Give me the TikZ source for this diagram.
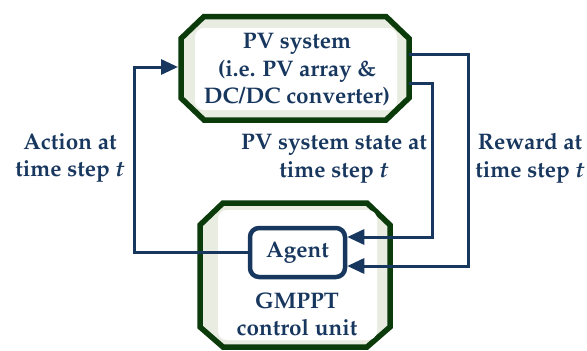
\documentclass[tikz,border=0pt]{standalone}
\usepackage[T1]{fontenc}
\usepackage{mathpazo}
\usetikzlibrary{arrows.meta}
\definecolor{txtc}{HTML}{18375F}
\definecolor{linec}{HTML}{17375E}
\definecolor{boxg}{HTML}{0B3B0B}
\definecolor{fillg}{HTML}{E9EDE1}
\begin{document}
\begin{tikzpicture}[x=1pt,y=-1pt,
  every node/.style={text=txtc, font=\fontsize{22.5}{27.5}\selectfont\bfseries, inner sep=0pt, align=center},
  conn/.style={draw=linec, line width=3pt},
  arr/.style={conn, -{Triangle[length=17pt,width=15pt]}},
  octo/.style={draw=boxg, line width=5.5pt, fill=fillg, line join=miter},
  innerbox/.style={fill=white, rounded corners=9pt, draw=none}]
\useasboundingbox (0,0) rectangle (587,351);
% top box
\draw[octo] (204,16.5) -- (386,16.5) -- (409,38.5) -- (409,98) -- (386,120) -- (204,120) -- (181,98) -- (181,38.5) -- cycle;
\fill[innerbox] (195,28) rectangle (397,110);
\node (pv) at (297,70) {PV system\\(i.e. PV array \&\\DC/DC converter)};
\coordinate (pvin) at (178,67);
\coordinate (pvoutA) at (409,54);
\coordinate (pvoutB) at (409,83);
% bottom box
\draw[octo] (223,203) -- (367,203) -- (390,225) -- (390,327) -- (367,347) -- (223,347) -- (200,327) -- (200,225) -- cycle;
\fill[innerbox] (218,210) rectangle (377,340);
\node[draw=linec, line width=4.5pt, rounded corners=9pt, minimum width=95pt, minimum height=49pt, outer sep=2.25pt] (agent) at (297.5,252.5) {Agent};
\node (gm) at (297,314) {GMPPT\\control unit};
% corner points
\coordinate (lc) at (134,252);
\coordinate (rsA) at (468,54);
\coordinate (rsB) at (432,83);
% connectors
\draw[arr] (agent.west |- lc) -- (lc) -- (lc |- pvin) -- (pvin);
\draw[arr] (pvoutB) -- (rsB) -- (rsB |- {(0,237)}) -- (agent.east |- {(0,237)});
\draw[arr] (pvoutA) -- (rsA) -- (rsA |- {(0,266)}) -- (agent.east |- {(0,266)});
% labels
\node (la) at (70,158) {Action at\\time step \textit{t}};
\node (ls) at (334,159) {PV system state at\\time step \textit{t}};
\node (lr) at (530,158) {Reward at\\time step \textit{t}};
\end{tikzpicture}
\end{document}
